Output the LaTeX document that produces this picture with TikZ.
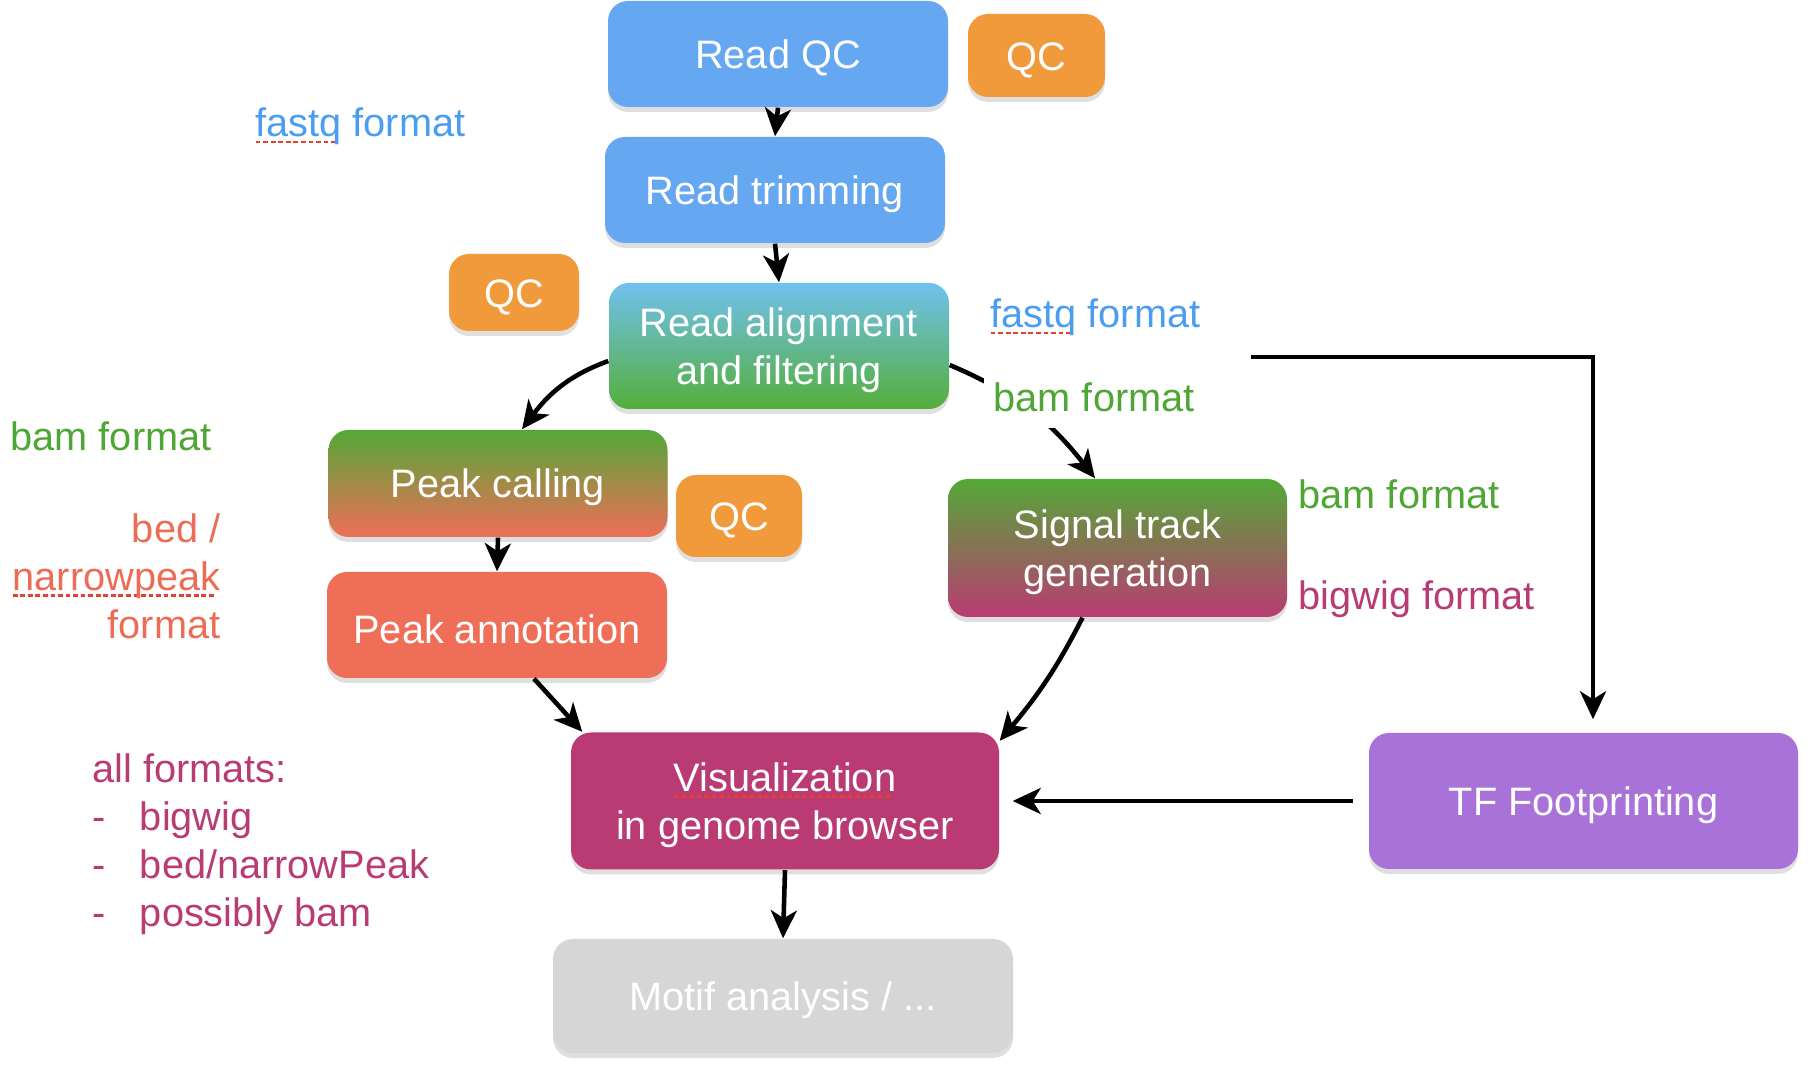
\documentclass[tikz,border=0pt]{standalone}
\usepackage{fontspec}
\setmainfont{Liberation Sans}
\usetikzlibrary{arrows.meta, shadows}

\definecolor{readblue}{RGB}{102,167,241}
\definecolor{qcorange}{RGB}{240,154,59}
\definecolor{alignblue}{RGB}{112,193,238}
\definecolor{aligngreen}{RGB}{84,174,58}
\definecolor{peakgreen}{RGB}{84,168,55}
\definecolor{annotred}{RGB}{238,110,88}
\definecolor{vismagenta}{RGB}{186,59,116}
\definecolor{tfpurple}{RGB}{169,114,217}
\definecolor{motifgray}{RGB}{214,214,214}
\definecolor{fmtblue}{RGB}{74,157,240}
\definecolor{fmtgreen}{RGB}{78,166,53}
\definecolor{fmtred}{RGB}{236,108,86}
\definecolor{fmtmagenta}{RGB}{184,59,116}
\definecolor{spellred}{RGB}{232,64,48}

\newcommand\diafont{\fontsize{11.3pt}{13.6pt}\selectfont}
\newcommand\topstrut{\rule{0pt}{0.92em}}
\newsavebox\spellbox
\newcommand\spellerr[1]{\sbox\spellbox{#1}%
  \rlap{\color{spellred}\leaders\hbox to 0.19em{\rule[-0.16em]{0.12em}{0.07em}\hfil}\hskip\wd\spellbox}%
  \usebox\spellbox}

\begin{document}
\begin{tikzpicture}[
    stagebox/.style={rectangle, rounded corners=0.2cm, text=white, align=center,
                     font=\diafont, inner sep=0pt,
                     execute at begin node={\topstrut},
                     drop shadow={shadow xshift=0pt, shadow yshift=-0.05cm, opacity=0.25}},
    readbox/.style={stagebox, fill=readblue, minimum width=3.4cm, minimum height=1.06cm},
    qcbox/.style={stagebox, fill=qcorange},
    fmtlabel/.style={font=\diafont, inner sep=0pt, anchor=base west},
    flowarrow/.style={-{Stealth[length=0.28cm, width=0.26cm, inset=0.08cm]}, line width=1.3pt}]

    \useasboundingbox (0,0) rectangle (18.10,-10.72);

    % Nodes - pipeline stages
    \node[readbox] (readqc) at (7.78,-0.54) {Read QC};
    \node[qcbox, minimum width=1.37cm, minimum height=0.83cm] (qctop) at (10.365,-0.555) {QC};
    \node[readbox] (trim) at (7.75,-1.90) {Read trimming};
    \node[stagebox, top color=alignblue, bottom color=aligngreen,
          minimum width=3.4cm, minimum height=1.26cm] (align) at (7.79,-3.46) {\topstrut Read alignment\\and filtering};
    \node[qcbox, minimum width=1.30cm, minimum height=0.77cm] (qcleft) at (5.14,-2.925) {QC};
    \node[stagebox, top color=peakgreen, bottom color=annotred,
          minimum width=3.39cm, minimum height=1.07cm] (peakcall) at (4.98,-4.835) {Peak calling};
    \node[qcbox, minimum width=1.26cm, minimum height=0.82cm] (qcmid) at (7.39,-5.16) {QC};
    \node[stagebox, fill=annotred, minimum width=3.4cm, minimum height=1.06cm] (annot) at (4.97,-6.25) {Peak annotation};
    \node[stagebox, top color=peakgreen, bottom color=vismagenta,
          minimum width=3.39cm, minimum height=1.38cm] (signal) at (11.175,-5.48) {\topstrut Signal track\\generation};
    \node[stagebox, fill=vismagenta, minimum width=4.28cm, minimum height=1.37cm] (vis) at (7.85,-8.01) {\topstrut\spellerr{Visualization}\\in genome browser};
    \node[stagebox, fill=tfpurple, minimum width=4.29cm, minimum height=1.36cm] (tf) at (15.835,-8.01) {TF Footprinting};
    \node[stagebox, fill=motifgray, minimum width=4.6cm, minimum height=1.14cm] (motif) at (7.83,-9.96) {Motif analysis / ...};

    \coordinate (tfstart) at (12.51,-3.57);

    % Arrows
    \draw[flowarrow] (readqc.south) -- (trim.north);
    \draw[flowarrow] (trim.south) -- (align.north);
    \draw[flowarrow] ([yshift=-0.15cm]align.west) to[out=200, in=53] ([xshift=0.24cm]peakcall.north);
    \draw[flowarrow] ([yshift=-0.19cm]align.east) to[out=-23, in=128] ([xshift=-0.225cm]signal.north);
    \draw[flowarrow] (peakcall.south) -- (annot.north);
    \draw[flowarrow] ([xshift=0.37cm]annot.south) -- ([xshift=0.12cm]vis.north west);
    \draw[flowarrow] ([xshift=-0.35cm]signal.south) to[out=-117, in=50] ([yshift=-0.09cm]vis.north east);
    \draw[flowarrow] (tfstart) -| ([xshift=0.095cm, yshift=0.13cm]tf.north);
    \draw[flowarrow, shorten <=0.15cm, shorten >=0.13cm] (tf.west) -- (vis.east);
    \draw[flowarrow] (vis.south) -- (motif.north);

    % Format labels
    \node[fmtlabel, text=fmtblue] (fastqtop) at (2.55,-1.37) {\spellerr{fastq} format};
    \node[fmtlabel, text=fmtblue] (fastqright) at (9.90,-3.28) {\spellerr{fastq} format};
    \node[fmtlabel, text=fmtgreen, fill=white, inner xsep=0.1cm, inner ysep=0.16cm] (bamalign) at (9.83,-4.12) {bam format};
    \node[fmtlabel, text=fmtgreen] (bamleft) at (0.10,-4.51) {bam format};
    \node[fmtlabel, text=fmtred, anchor=base east] (bedleft) at (2.21,-5.43)
        {\begin{tabular}[t]{@{}r@{}}bed /\\ \spellerr{narrowpeak}\\ format\end{tabular}};
    \node[fmtlabel, text=fmtgreen] (bamsignal) at (12.98,-5.09) {bam format};
    \node[fmtlabel, text=fmtmagenta] (bigwig) at (12.98,-6.10) {bigwig format};
    \node[fmtlabel, text=fmtmagenta] (allformats) at (0.92,-7.83)
        {\begin{tabular}[t]{@{}l@{\hspace{0.34cm}}l@{}}\multicolumn{2}{@{}l@{}}{all formats:}\\
         -& bigwig\\ -& bed/narrowPeak\\ -& possibly bam\end{tabular}};

\end{tikzpicture}
\end{document}
